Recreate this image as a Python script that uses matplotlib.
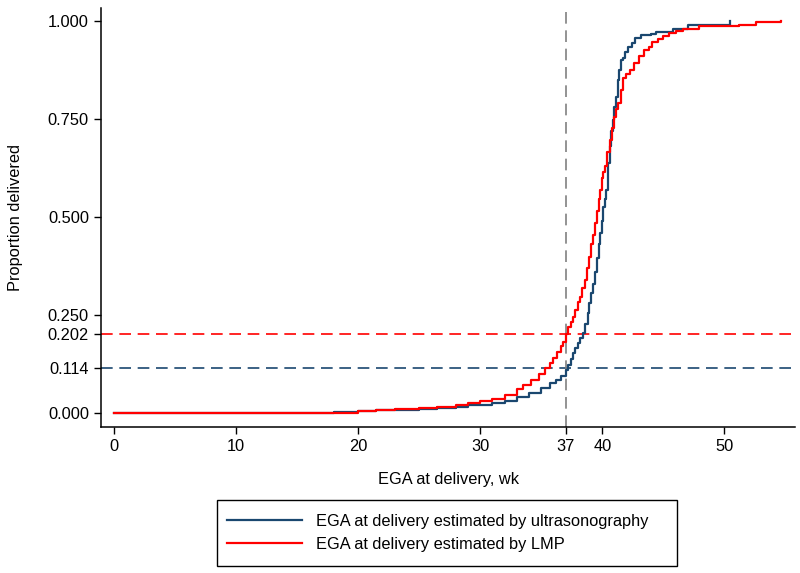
import matplotlib
matplotlib.use('Agg')
import matplotlib.pyplot as plt
from matplotlib.patches import Rectangle

plt.rcParams['font.family'] = ['Liberation Sans', 'DejaVu Sans']

# cumulative proportion delivered (step breakpoints)
us_weeks = [0, 14, 18, 20, 21.5, 23, 25, 26.5, 28, 29, 30, 31, 32, 33, 34,
            35.0, 35.7, 36.2, 36.6, 37.0, 37.2, 37.4, 37.6, 37.8, 38.0, 38.2,
            38.4, 38.6, 38.8, 38.95, 39.1, 39.25, 39.4, 39.55, 39.7, 39.8,
            39.95, 40.1, 40.2, 40.3, 40.45, 40.6, 40.75, 40.86, 41.0, 41.13,
            41.27, 41.4, 41.55, 41.7, 41.85, 42.1, 42.4, 42.7, 43.2, 44.0,
            44.4, 45.8, 47.0, 50.5]
us_prop = [0.000, 0.001, 0.002, 0.004, 0.007, 0.008, 0.010, 0.012, 0.016,
           0.019, 0.020, 0.024, 0.030, 0.040, 0.050, 0.064, 0.076, 0.085,
           0.095, 0.110, 0.122, 0.137, 0.152, 0.165, 0.178, 0.190, 0.203,
           0.228, 0.255, 0.280, 0.305, 0.330, 0.360, 0.395, 0.430, 0.458,
           0.490, 0.525, 0.545, 0.570, 0.637, 0.680, 0.720, 0.747, 0.780,
           0.807, 0.849, 0.875, 0.900, 0.905, 0.920, 0.934, 0.945, 0.956,
           0.964, 0.966, 0.973, 0.980, 0.990, 1.000]

lmp_weeks = [0, 16, 20, 21.5, 23, 25, 26.5, 28, 29, 30, 31, 32, 33, 33.5,
             34.2, 34.8, 35.3, 35.7, 36.0, 36.3, 36.6, 36.8, 37.0, 37.2, 37.4,
             37.6, 37.8, 38.0, 38.15, 38.35, 38.55, 38.75, 38.95, 39.1, 39.25,
             39.4, 39.55, 39.7, 39.8, 39.95, 40.1, 40.2, 40.4, 40.6, 40.8,
             41.0, 41.15, 41.3, 41.5, 41.7, 41.95, 42.25, 42.6, 43.0, 43.4,
             43.8, 44.1, 44.6, 45.0, 45.5, 46.0, 46.6, 47.9, 51.2, 52.6, 54.6]
lmp_prop = [0.000, 0.001, 0.004, 0.008, 0.009, 0.012, 0.015, 0.020, 0.025,
            0.030, 0.036, 0.046, 0.060, 0.071, 0.085, 0.100, 0.115, 0.127,
            0.140, 0.155, 0.170, 0.180, 0.202, 0.220, 0.232, 0.246, 0.262,
            0.282, 0.297, 0.318, 0.339, 0.370, 0.399, 0.430, 0.455, 0.484,
            0.515, 0.545, 0.569, 0.600, 0.615, 0.630, 0.665, 0.696, 0.726,
            0.756, 0.775, 0.792, 0.825, 0.854, 0.865, 0.875, 0.892, 0.910,
            0.925, 0.935, 0.947, 0.955, 0.962, 0.969, 0.975, 0.981, 0.988,
            0.990, 0.998, 1.000]

cutoff_week = 37
us_at_cutoff = 0.114
lmp_at_cutoff = 0.202

x_ticks = [0, 10, 20, 30, 37, 40, 50]
y_ticks = [0.0, 0.114, 0.202, 0.25, 0.5, 0.75, 1.0]

navy = '#1a476f'
red = '#ff0000'
fs = 11.8

fig = plt.figure(figsize=(8, 5.73), dpi=100)
ax = fig.add_axes([0.126, 0.2548, 0.868, 0.731])

ax.axhline(lmp_at_cutoff, color=red, lw=1.2, dashes=(7, 4))
ax.axhline(us_at_cutoff, color=navy, lw=1.2, dashes=(7, 4))
ax.axvline(cutoff_week, color='#808080', lw=1.2, dashes=(7, 4))

ax.plot(us_weeks, us_prop, drawstyle='steps-post', color=navy, lw=1.6,
        label='EGA at delivery estimated by ultrasonography')
ax.plot(lmp_weeks, lmp_prop, drawstyle='steps-post', color=red, lw=1.6,
        label='EGA at delivery estimated by LMP')

ax.set_xlim(-1.07, 55.8)
ax.set_ylim(-0.036, 1.033)
ax.set_xticks(x_ticks)
ax.set_yticks(y_ticks)
ax.set_yticklabels(['%.3f' % v for v in y_ticks])
ax.tick_params(direction='out', length=5, width=1, labelsize=fs, colors='black')
for side in ('top', 'right'):
    ax.spines[side].set_visible(False)
for side in ('left', 'bottom'):
    ax.spines[side].set_linewidth(1.1)

ax.set_xlabel('EGA at delivery, wk', fontsize=fs, labelpad=13)
ax.set_ylabel('Proportion delivered', fontsize=fs, labelpad=18)

# legend box drawn separately so its padding matches the original
fig.patches.append(Rectangle((217 / 800, 7 / 573), 460 / 800, 66 / 573,
                             transform=fig.transFigure, fill=False,
                             ec='black', lw=1.0))
leg = fig.legend(loc='center left', bbox_to_anchor=(209 / 800, 40 / 573),
                 fontsize=fs, handlelength=4.6, handletextpad=0.8,
                 borderpad=0.6, labelspacing=0.5, frameon=False)
for h in leg.get_lines():
    h.set_linewidth(1.6)

fig.savefig('out.png', dpi=100)
